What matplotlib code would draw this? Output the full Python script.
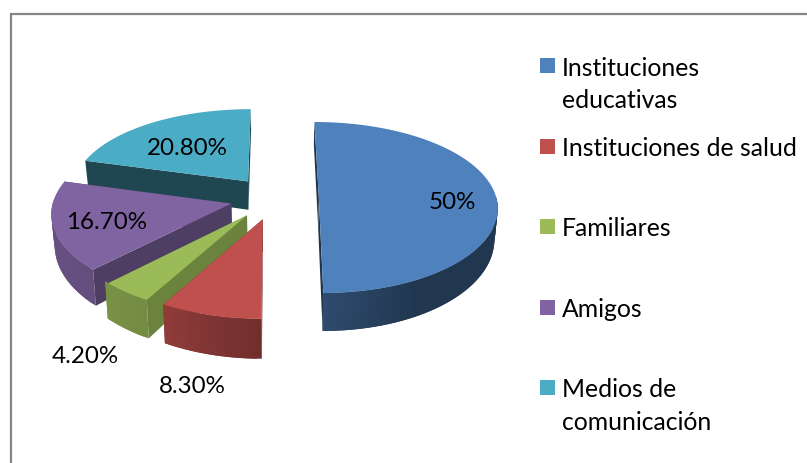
import numpy as np
from matplotlib import pyplot as plt
from matplotlib.patches import Rectangle

categories = ['Instituciones educativas', 'Instituciones de salud', 'Familiares', 'Amigos', 'Medios de comunicación']
values = [50, 8.3, 4.2, 16.7, 20.8]
value_labels = ['50%', '8.30%', '4.20%', '16.70%', '20.80%']

colors = ['#4F81BD', '#C0504D', '#9BBB59', '#8064A2', '#4BACC6']
cut_shade = [0.40, 0.55, 0.70, 0.62, 0.41]
label_pos = [(452, 203), (192, 387), (85, 357), (107, 223), (187, 149)]
legend_lines = [['Instituciones', 'educativas'], ['Instituciones de salud'], ['Familiares'], ['Amigos'], ['Medios de', 'comunicación']]
legend_y = [68, 149, 229, 310, 390]
legend_box_y = [66, 147, 227, 308, 388]

# perspective of the pie, in pixels
cx, cy = 274.5, 199
ra, rb, rc = 177.5, 85.5, 9.5
px = 0.1
explode = 0.25
FONT = 'Lato'


def project(u, v):
    x = cx + ra * u * (1 + px * v)
    y = cy + rb * v + rc * v * v
    return x, y


def drop(x, y, v):
    # bottom edge of the wall under a top point
    return cx + (x - cx) * 0.985, y + 30 + 8 * v


def wall_shade(t):
    return np.interp(t, [-195, -150, -120, -90, -60, 0], [0.8, 0.8, 0.75, 0.58, 0.42, 0.42])


def scaled(col, f):
    rgb = np.array([int(col[i:i + 2], 16) for i in (1, 3, 5)]) / 255
    return tuple(rgb * f)


fig = plt.figure(figsize=(8.07, 4.64), dpi=100)
ax = fig.add_axes([0, 0, 1, 1])
ax.set_xlim(0, 807)
ax.set_ylim(464, 0)
ax.axis('off')

# chart frame, runs off the right and bottom of the crop
ax.plot([11, 11, 807], [464, 15, 15], color='#868686', lw=1.6, solid_joinstyle='miter')

ends = 90 - np.cumsum(values) * 3.6
starts = np.r_[90, ends[:-1]]


def draw_slice(i):
    t0, t1 = starts[i], ends[i]
    mid = np.radians((t0 + t1) / 2)
    ou, ov = explode * np.cos(mid), -explode * np.sin(mid)
    ts = np.arange(t0, t1 - 1.5, -1.5)
    ts = np.r_[ts, t1]
    us = ou + np.cos(np.radians(ts))
    vs = ov - np.sin(np.radians(ts))
    xs, ys = project(us, vs)
    ax0, ay0 = project(ou, ov)

    # the two cut faces
    for x, y, v in [(xs[0], ys[0], vs[0]), (xs[-1], ys[-1], vs[-1])]:
        bx, by = drop(x, y, v)
        abx, aby = drop(ax0, ay0, ov)
        c = scaled(colors[i], cut_shade[i])
        ax.fill([ax0, x, bx, abx], [ay0, y, by, aby], color=c, lw=0)

    # outer wall in small strips, each one laps under the next so no seams show
    bxs, bys = drop(xs, ys, vs)
    for j in range(len(ts) - 1):
        if np.sin(np.radians(ts[j])) > 0.02 and np.sin(np.radians(ts[j + 1])) > 0.02:
            continue
        n = min(j + 2, len(ts) - 1)
        c = scaled(colors[i], wall_shade((ts[j] + ts[j + 1]) / 2))
        ax.fill([xs[j], xs[n], bxs[n], bxs[j]], [ys[j], ys[n], bys[n], bys[j]], color=c, lw=0)

    ax.fill(np.r_[ax0, xs], np.r_[ay0, ys], color=colors[i], lw=0)


for i in [4, 0, 3, 2, 1]:
    draw_slice(i)

for txt, (x, y) in zip(value_labels, label_pos):
    ax.text(x, y, txt, ha='center', va='center', fontsize=17.4, family=FONT, color='black')

for col, lines, y, by in zip(colors, legend_lines, legend_y, legend_box_y):
    ax.add_patch(Rectangle((540, by - 7.5), 15, 15, facecolor=col, edgecolor='none'))
    for k, line in enumerate(lines):
        ax.text(562, y + k * 33, line, ha='left', va='center', fontsize=17.8, family=FONT, color='black')

fig.savefig('out.png', dpi=100)
